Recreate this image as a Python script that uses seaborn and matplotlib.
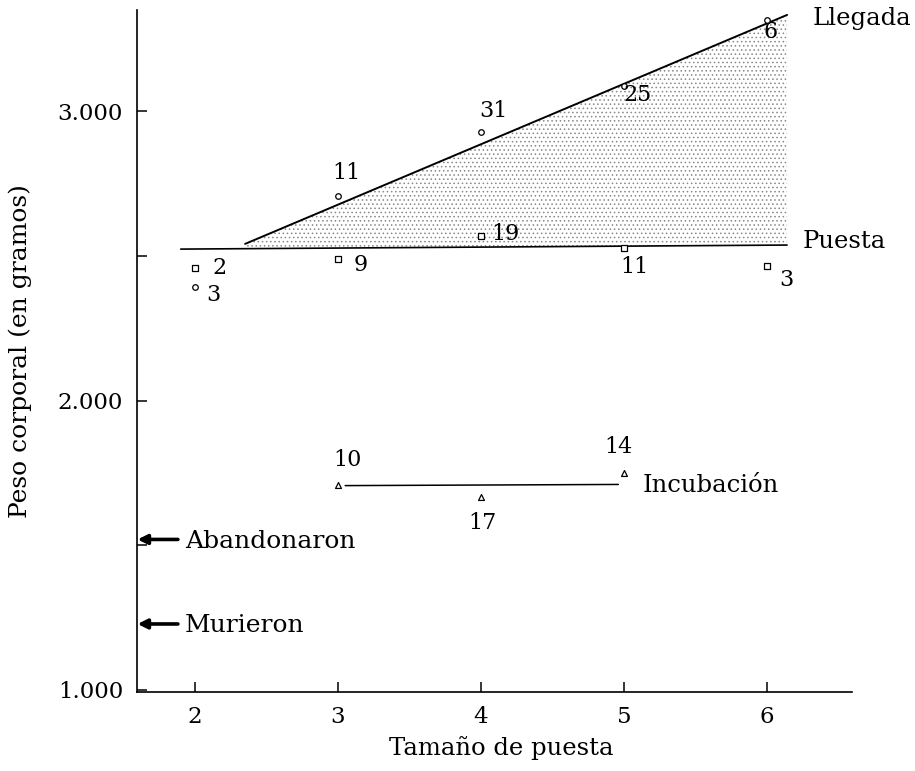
import numpy as np
import pandas as pd
import matplotlib
matplotlib.use("Agg")
import matplotlib.pyplot as plt
import seaborn as sns

# ---- data ----
tamano = [2, 3, 4, 5, 6]
llegada_peso = [2392, 2706, 2927, 3086, 3314]
llegada_n = ["3", "11", "31", "25", "6"]
puesta_peso = [2458, 2489, 2568, 2527, 2465]
puesta_n = ["2", "9", "19", "11", "3"]
incub_tamano = [3, 4, 5]
incub_peso = [1708, 1667, 1750]
incub_n = ["10", "17", "14"]

llegada_line_x = [2.35, 6.14]
llegada_line_y = [2541, 3332]
puesta_line_x = [1.9, 6.14]
puesta_line_y = [2523, 2537]
incub_line_x = [3.05, 4.96]
incub_line_y = [1706, 1710]

flechas_y = [1520, 1228]
flechas_txt = ["Abandonaron", "Murieron"]

yticks = [1000, 1500, 2000, 2500, 3000]
yticklabels = ["1.000", "", "2.000", "", "3.000"]
xticks = [2, 3, 4, 5, 6]

# ---- style ----
sns.set_style("ticks")
plt.rcParams["font.family"] = ["DejaVu Serif"]
plt.rcParams["hatch.linewidth"] = 0.6
plt.rcParams["text.color"] = "black"
FS_NUM = 16
FS_LBL = 17.5

fig = plt.figure(figsize=(9.15, 7.71), dpi=100)
ax = fig.add_axes([137 / 915, 1 - 692 / 771, (852 - 137) / 915, (692 - 10) / 771])

# shaded region between lines
fx = np.array(llegada_line_x)
fy1 = np.array(llegada_line_y)
fy2 = np.interp(fx, puesta_line_x, puesta_line_y)
ax.fill_between(fx, fy2, fy1, facecolor="white", edgecolor="#888888",
                hatch="....", linewidth=0, zorder=1)

# lines
for lx, ly, lw in [(llegada_line_x, llegada_line_y, 1.4),
                   (puesta_line_x, puesta_line_y, 1.2),
                   (incub_line_x, incub_line_y, 1.1)]:
    sns.lineplot(x=lx, y=ly, ax=ax, color="black", linewidth=lw, zorder=2)

# points
sns.scatterplot(x=tamano, y=llegada_peso, ax=ax, marker="o", s=16,
                color="white", edgecolor="black", linewidth=0.9, zorder=4)
sns.scatterplot(x=tamano, y=puesta_peso, ax=ax, marker="s", s=14,
                color="white", edgecolor="black", linewidth=0.9, zorder=4)
sns.scatterplot(x=incub_tamano, y=incub_peso, ax=ax, marker="^", s=18,
                color="white", edgecolor="black", linewidth=0.9, zorder=4)

# n labels (offsets in pixels)
lleg_off = [(18, -8), (8, 23), (12, 21), (14, -9), (4, -12)]
pues_off = [(24, 0), (23, -6), (24, 2), (10, -19), (19, -14)]
incu_off = [(9, 25), (1, -26), (-6, 26)]
for xs, ys, ts, offs in [(tamano, llegada_peso, llegada_n, lleg_off),
                         (tamano, puesta_peso, puesta_n, pues_off),
                         (incub_tamano, incub_peso, incub_n, incu_off)]:
    for x, y, t, o in zip(xs, ys, ts, offs):
        ax.annotate(t, (x, y), xytext=o, textcoords="offset pixels",
                    ha="center", va="center", fontsize=FS_NUM, zorder=5,
                    color="black")

# series labels
ax.text(6.32, 3318, "Llegada", fontsize=FS_LBL, ha="left", va="center")
ax.text(6.25, 2548, "Puesta", fontsize=FS_LBL, ha="left", va="center")
ax.text(5.13, 1705, "Incubación", fontsize=FS_LBL, ha="left", va="center")

# arrows
for y, t in zip(flechas_y, flechas_txt):
    ax.annotate("", xy=(1.598, y), xytext=(1.88, y),
                arrowprops=dict(arrowstyle="-|>", color="black", lw=2.6,
                                mutation_scale=14, shrinkA=0, shrinkB=0))
    ax.text(1.93, y - 6, t, fontsize=18, ha="left", va="center")

ax.set_xlim(1.594, 6.594)
ax.set_ylim(993, 3349)
ax.set_xticks(xticks)
ax.set_xticklabels([str(v) for v in xticks])
ax.set_yticks(yticks)
ax.set_yticklabels(yticklabels)
ax.tick_params(direction="in", length=7, width=1.1, labelsize=16.5, pad=10,
               colors="black")
for s in ["top", "right"]:
    ax.spines[s].set_visible(False)
for s in ["left", "bottom"]:
    ax.spines[s].set_linewidth(1.2)
    ax.spines[s].set_color("black")

ax.set_xlabel("Tamaño de puesta", fontsize=17.5, color="black")
ax.set_ylabel("Peso corporal (en gramos)", fontsize=18, color="black")
ax.xaxis.set_label_coords(0.51, -0.064)
ax.yaxis.set_label_coords(-0.147, 0.5)

fig.savefig("out.png", dpi=100)
